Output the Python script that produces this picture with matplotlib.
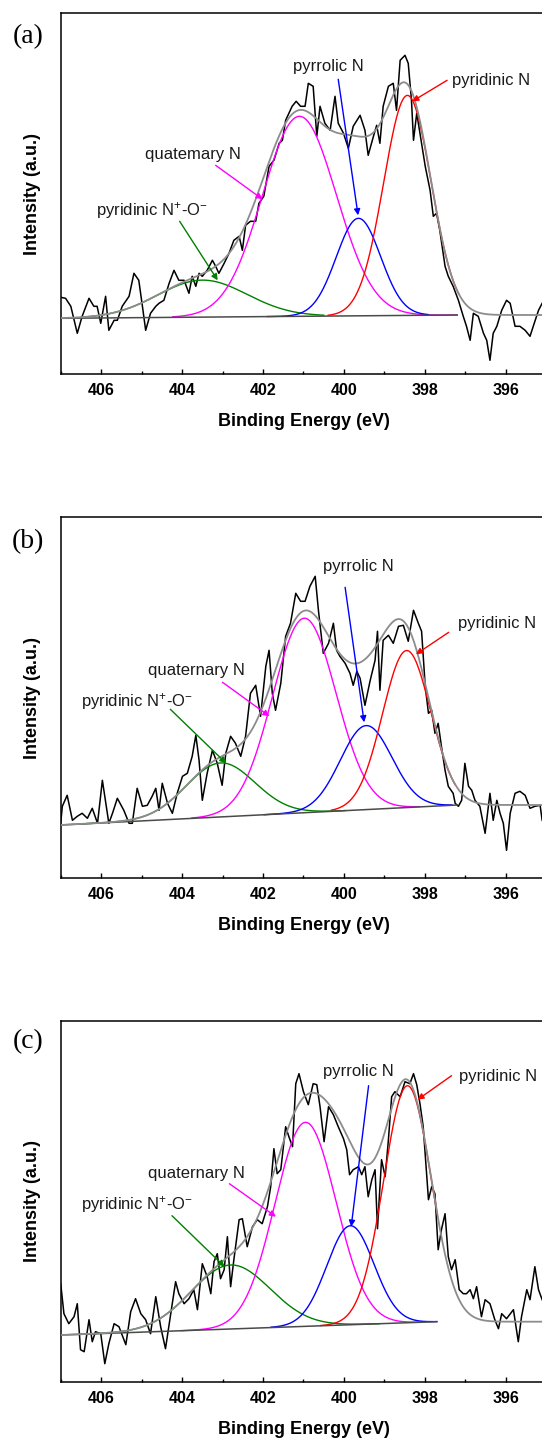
import numpy as np
import matplotlib
matplotlib.use("Agg")
import matplotlib.pyplot as plt

plt.rcParams['font.family'] = ['Liberation Sans', 'DejaVu Sans']
plt.rcParams['mathtext.default'] = 'regular'

# ---- raw spectra (binding energy in eV, intensity in a.u.) ----
e_a = [407.00, 406.88, 406.75, 406.59, 406.47, 406.30, 406.18, 406.10, 406.01, 405.89,
       405.81, 405.68, 405.60, 405.48, 405.31, 405.19, 405.07, 404.98, 404.90, 404.78,
       404.65, 404.57, 404.45, 404.32, 404.20, 404.08, 403.95, 403.83, 403.75, 403.66,
       403.58, 403.50, 403.38, 403.25, 403.17, 403.09, 402.96, 402.84, 402.72, 402.59,
       402.51, 402.43, 402.31, 402.18, 402.10, 401.98, 401.85, 401.73, 401.60, 401.52,
       401.44, 401.28, 401.18, 401.07,
       400.96, 400.88, 400.76, 400.67, 400.59, 400.47, 400.34, 400.22, 400.14, 400.01,
       399.89, 399.77, 399.60, 399.48, 399.40, 399.27, 399.19, 399.11, 399.03, 398.90,
       398.78, 398.70, 398.61, 398.49, 398.41, 398.33, 398.28, 398.20, 398.12, 397.99,
       397.87, 397.79, 397.71, 397.63, 397.50, 397.42, 397.30, 397.17, 397.05, 396.97,
       396.88, 396.80, 396.68, 396.55, 396.47, 396.39, 396.31, 396.22, 396.10, 395.98,
       395.89, 395.77, 395.65, 395.52, 395.40, 395.32, 395.19, 395.10]
i_a = [7.7, 7.6, 6.8, 4.1, 5.8, 7.6, 6.8, 6.8, 5.1, 7.8,
       4.4, 5.4, 5.4, 6.8, 7.8, 10.1, 9.4, 6.8, 4.4, 6.1,
       6.8, 7.1, 7.4, 9.1, 10.4, 9.4, 9.4, 8.1, 9.8, 8.8,
       10.1, 9.8, 10.4, 11.4, 10.8, 10.1, 11.1, 12.1, 13.4, 13.8,
       12.4, 14.9, 15.3, 15.3, 17.1, 17.8, 20.8, 21.4, 23.1, 23.4,
       25.4, 26.8, 27.3, 26.8,
       26.8, 29.1, 28.8, 23.8, 26.8, 25.1, 24.4, 27.8, 25.1, 24.1,
       22.6, 24.8, 25.9, 24.4, 21.9, 23.8, 24.9, 23.1, 26.8, 28.8,
       29.1, 26.4, 31.4, 31.9, 31.1, 27.4, 23.4, 26.1, 24.1, 20.8,
       18.4, 15.8, 16.1, 14.4, 10.8, 9.8, 8.8, 7.4, 5.8, 4.8,
       3.4, 6.1, 5.8, 4.1, 3.4, 1.4, 4.1, 4.8, 6.4, 7.4,
       7.1, 4.8, 4.8, 4.4, 3.8, 4.8, 6.4, 7.1]

e_b = [407.04, 406.96, 406.84, 406.71, 406.59, 406.47, 406.34, 406.22, 406.09, 405.97,
       405.81, 405.72, 405.60, 405.44, 405.31, 405.23, 405.11, 404.98, 404.86, 404.74,
       404.65, 404.57, 404.49, 404.36, 404.24, 404.12, 403.99, 403.87, 403.75, 403.66,
       403.58, 403.50, 403.38, 403.25, 403.13, 403.01, 402.92, 402.80, 402.68, 402.55,
       402.43, 402.31, 402.18, 402.06, 401.93, 401.85, 401.77, 401.69, 401.56, 401.44,
       401.32, 401.19, 401.07,
       400.96, 400.84, 400.71, 400.63, 400.51, 400.38, 400.26, 400.18, 400.10, 399.97,
       399.85, 399.77, 399.68, 399.60, 399.48, 399.35, 399.23, 399.17, 399.11, 399.03,
       398.90, 398.78, 398.65, 398.53, 398.41, 398.28, 398.16, 398.08, 397.99, 397.91,
       397.83, 397.75, 397.67, 397.59, 397.50, 397.42, 397.30, 397.25, 397.17, 397.09,
       397.01, 396.92, 396.84, 396.76, 396.64, 396.51, 396.39, 396.31, 396.22, 396.14,
       396.06, 395.98, 395.89, 395.77, 395.65, 395.52, 395.40, 395.28, 395.15, 395.10]
i_b = [3.8, 7.2, 8.3, 5.8, 6.2, 6.5, 6.0, 7.0, 5.5, 9.8,
       5.5, 6.5, 8.0, 6.8, 5.5, 5.5, 9.0, 7.2, 7.3, 8.2,
       9.0, 6.8, 9.5, 7.5, 6.5, 8.5, 10.2, 10.5, 12.2, 14.3,
       11.8, 7.8, 10.5, 12.8, 11.5, 9.3, 12.5, 14.2, 13.5, 12.2,
       14.2, 18.5, 19.3, 16.2, 21.2, 22.8, 18.5, 16.8, 19.5, 24.2,
       25.5, 28.5, 27.7,
       27.7, 29.2, 30.2, 26.8, 22.5, 23.5, 25.5, 22.8, 22.2, 21.5,
       20.5, 19.3, 20.7, 20.0, 17.3, 19.8, 21.8, 24.7, 18.8, 23.8,
       24.3, 23.5, 25.2, 25.3, 23.7, 26.8, 25.5, 24.7, 19.2, 16.5,
       16.8, 14.5, 15.5, 13.2, 10.8, 9.2, 8.5, 7.5, 7.2, 7.8,
       11.5, 9.2, 8.8, 7.8, 7.2, 4.5, 8.5, 5.8, 7.8, 6.5,
       5.5, 2.8, 6.5, 8.5, 8.7, 8.3, 7.0, 7.2, 7.3, 5.8]

e_c = [407.00, 406.92, 406.80, 406.67, 406.59, 406.51, 406.42, 406.30, 406.22, 406.14,
       406.01, 405.91, 405.81, 405.68, 405.56, 405.39, 405.27, 405.15, 405.02, 404.90,
       404.78, 404.65, 404.53, 404.41, 404.28, 404.16, 404.08, 403.95, 403.83, 403.71,
       403.62, 403.50, 403.38, 403.29, 403.21, 403.13, 403.05, 402.96, 402.88, 402.80,
       402.72, 402.59, 402.51, 402.39, 402.26, 402.14, 402.02, 401.89, 401.81, 401.73,
       401.65, 401.56, 401.44, 401.36, 401.27, 401.19, 401.11,
       401.00, 400.88, 400.76, 400.67, 400.59, 400.49, 400.38, 400.26, 400.14, 400.01,
       399.93, 399.86, 399.77, 399.64, 399.56, 399.48, 399.40, 399.31, 399.23, 399.17,
       399.07, 398.98, 398.90, 398.82, 398.74, 398.61, 398.49, 398.37, 398.28, 398.20,
       398.12, 398.04, 397.91, 397.83, 397.75, 397.67, 397.59, 397.50, 397.42, 397.34,
       397.25, 397.15, 397.05, 396.97, 396.88, 396.80, 396.72, 396.60, 396.51, 396.39,
       396.27, 396.18, 396.10, 395.98, 395.81, 395.69, 395.61, 395.48, 395.40, 395.28,
       395.19, 395.10]
i_c = [9.8, 6.8, 5.8, 6.5, 7.8, 3.2, 3.0, 6.2, 4.0, 5.0,
       4.8, 1.8, 3.8, 5.8, 5.5, 3.7, 7.0, 8.3, 6.8, 6.2,
       4.8, 8.5, 5.5, 3.3, 6.8, 10.0, 8.8, 7.8, 8.3, 9.2,
       7.2, 11.8, 10.5, 8.8, 12.0, 12.8, 10.3, 11.2, 14.5, 9.5,
       12.2, 16.2, 16.3, 13.5, 15.5, 16.2, 15.8, 17.5, 19.5, 23.3,
       20.8, 21.2, 25.5, 24.5, 23.5, 29.8, 30.8,
       29.0, 27.7, 29.8, 29.7, 27.5, 24.0, 27.5, 26.7, 25.5, 24.3,
       23.2, 20.7, 21.2, 21.5, 20.7, 21.5, 18.5, 20.2, 21.2, 15.3,
       22.2, 20.5, 24.2, 28.5, 29.0, 28.5, 30.0, 29.8, 30.8, 29.7,
       27.8, 25.5, 18.2, 19.5, 18.8, 13.2, 15.2, 16.8, 12.5, 11.2,
       12.2, 9.2, 8.8, 8.8, 9.2, 8.3, 9.5, 6.5, 8.2, 7.8,
       6.2, 5.3, 6.8, 6.3, 7.2, 4.0, 6.5, 9.2, 8.2, 11.5,
       9.2, 8.2]

# ---- fitted components: N+-O-, quaternary, pyrrolic, pyridinic ----
comp_colors = ['#008000', '#ff00ff', '#0000ff', '#ff0000']

center_a = [403.5, 401.1, 399.64, 398.43]
fwhm_a = [2.6, 2.15, 1.29, 1.38]
height_a = [3.7, 20.0, 9.75, 22.0]
span_a = [(406.5, 400.5), (404.23, 397.2), (401.89, 397.92), (400.39, 397.16)]
base_a = (5.6, 5.93, 397.2)      # value at 407 eV, value at knee, knee energy

center_b = [403.05, 400.98, 399.45, 398.45]
fwhm_b = [2.0, 1.85, 1.5, 1.4]
height_b = [5.4, 19.45, 8.4, 15.7]
span_b = [(406.5, 399.97), (403.76, 398.13), (401.97, 397.33), (400.31, 397.24)]
base_b = (5.33, 7.33, 397.2)

center_c = [402.8, 400.95, 399.84, 398.43]
fwhm_c = [2.3, 1.78, 1.37, 1.38]
height_c = [6.4, 20.4, 9.9, 23.7]
span_c = [(406.5, 399.12), (404.02, 398.13), (401.8, 397.7), (400.57, 397.7)]
base_c = (4.67, 6.0, 397.71)

npo = 'pyridinic N$^{+}$-O$^{-}$'
# (text, colour, text position, arrow tail, arrow head)
notes_a = [(npo, '#008000', (406.13, 16.4), (404.06, 15.3), (403.12, 9.4)),
           ('quatemary N', '#ff00ff', (404.92, 22.0), (403.17, 20.9), (402.01, 17.5)),
           ('pyrrolic N', '#0000ff', (401.25, 30.8), (400.14, 29.5), (399.65, 15.9)),
           ('pyridinic N', '#ff0000', (397.32, 29.4), (397.45, 29.4), (398.31, 27.3))]
notes_b = [(npo, '#008000', (406.5, 17.7), (404.29, 16.9), (402.91, 11.5)),
           ('quaternary N', '#ff00ff', (404.83, 20.8), (403.0, 19.6), (401.84, 16.2)),
           ('pyrrolic N', '#0000ff', (400.52, 31.2), (399.97, 29.1), (399.50, 15.6)),
           ('pyridinic N', '#ff0000', (397.17, 25.5), (397.41, 24.6), (398.22, 22.4))]
notes_c = [(npo, '#008000', (406.5, 17.7), (404.25, 16.6), (402.95, 11.5)),
           ('quaternary N', '#ff00ff', (404.83, 20.8), (402.83, 19.8), (401.68, 16.5)),
           ('pyrrolic N', '#0000ff', (400.52, 31.0), (399.39, 29.6), (399.82, 15.5)),
           ('pyridinic N', '#ff0000', (397.15, 30.5), (397.34, 30.6), (398.18, 28.2))]


def gauss(x, c, w, h):
    return h * np.exp(-4 * np.log(2) * (x - c) ** 2 / w ** 2)


def baseline(x, base):
    left, right, knee = base
    return np.interp(x, [395.0, knee, 407.0], [right, right, left])


def draw_panel(ax, e, inten, centers, fwhms, heights, spans, base, notes):
    ax.plot(e, inten, color='black', lw=1.1, zorder=2)

    xx = np.linspace(407, 395, 1200)
    bl = baseline(xx, base)
    envelope = bl.copy()
    for c, w, h, (x0, x1), col in zip(centers, fwhms, heights, spans, comp_colors):
        envelope += gauss(xx, c, w, h)
        xs = np.linspace(x0, x1, 400)
        ax.plot(xs, baseline(xs, base) + gauss(xs, c, w, h), color=col, lw=1.0, zorder=3)
    xb = np.linspace(407, base[2], 50)
    ax.plot(xb, baseline(xb, base), color='#4a4a4a', lw=1.1, zorder=3)
    ax.plot(xx, envelope, color='#8c8c8c', lw=1.3, zorder=4)

    for txt, col, tpos, tail, head in notes:
        ax.text(tpos[0], tpos[1], txt, color='#1a1a1a', fontsize=12,
                ha='left', va='center', zorder=5)
        ax.annotate('', xy=head, xytext=tail, zorder=5,
                    arrowprops=dict(arrowstyle='-|>', color=col, lw=1.0,
                                    mutation_scale=9, shrinkA=0, shrinkB=0))

    ax.set_xlim(407, 395)
    ax.set_ylim(0, 36.1)
    ax.set_xticks([406, 404, 402, 400, 398, 396])
    ax.set_xticks(np.arange(395, 407.5, 1), minor=True)
    ax.set_yticks([])
    ax.tick_params(axis='x', which='major', direction='in', length=3.5, width=1.0,
                   pad=6.5, labelsize=11.5)
    ax.tick_params(axis='x', which='minor', direction='in', length=2, width=1.0)
    for lab in ax.get_xticklabels():
        lab.set_fontweight('bold')
    for sp in ax.spines.values():
        sp.set_linewidth(1.1)
    ax.set_xlabel('Binding Energy (eV)', fontsize=13, fontweight='bold')
    ax.set_ylabel('Intensity (a.u.)', fontsize=13, fontweight='bold')
    ax.xaxis.set_label_coords(0.5, -0.108)
    ax.yaxis.set_label_coords(-0.041, 0.5)


fig = plt.figure(figsize=(5.42, 14.38), dpi=100)
left = 60.7 / 542
width = 485.5 / 542
height = 361 / 1438
panels = [
    (374.3, e_a, i_a, center_a, fwhm_a, height_a, span_a, base_a, notes_a, '(a)', 36.7),
    (878.3, e_b, i_b, center_b, fwhm_b, height_b, span_b, base_b, notes_b, '(b)', 541.7),
    (1381.7, e_c, i_c, center_c, fwhm_c, height_c, span_c, base_c, notes_c, '(c)', 1041.7),
]
for bottom_px, e, inten, cs, ws, hs, sps, bs, nts, letter, ly in panels:
    ax = fig.add_axes([left, 1 - bottom_px / 1438, width, height])
    draw_panel(ax, e, inten, cs, ws, hs, sps, bs, nts)
    fig.text(28.3 / 542, 1 - ly / 1438, letter, fontsize=20, ha='center', va='center',
             family=['Liberation Serif', 'DejaVu Serif'])

fig.savefig('out.png', dpi=100)
